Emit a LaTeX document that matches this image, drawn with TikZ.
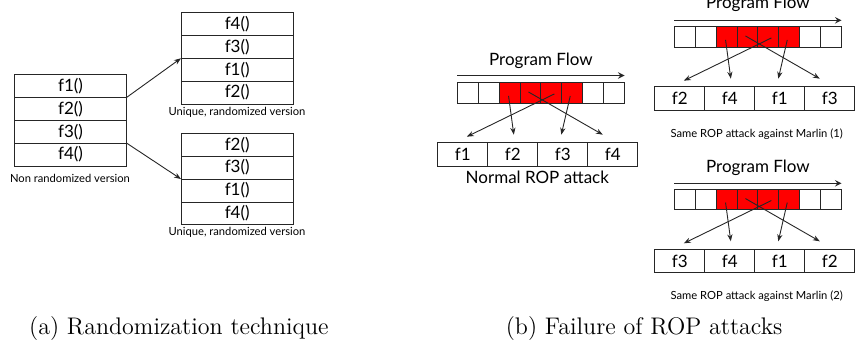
\documentclass[tikz,border=0pt]{standalone}
\usepackage{fontspec}
\newfontfamily\gillfont{Lato}
\usetikzlibrary{arrows.meta,positioning}

\tikzset{
  fnbox/.style={draw, minimum width=56.2pt, minimum height=11.45pt, inner sep=0pt, outer sep=0pt,
    font=\gillfont\fontsize{8.5}{8}\selectfont},
  cell/.style={draw, minimum width=10.45pt, minimum height=10.25pt, inner sep=0pt, outer sep=0pt},
  hot/.style={cell, fill=red},
  gadget/.style={draw, minimum width=25pt, minimum height=11.75pt, inner sep=0pt, outer sep=0pt,
    font=\gillfont\fontsize{8.5}{8}\selectfont},
  note/.style={font=\gillfont\fontsize{5.6}{6}\selectfont},
  flow/.style={font=\gillfont\fontsize{8.5}{9}\selectfont, anchor=base},
  tip/.style={-{Stealth[length=3.5pt,width=2.6pt]}},
}

\begin{document}
\begin{tikzpicture}[x=0.5pt, y=-0.5pt, line width=0.45pt, draw=black!85]
\useasboundingbox (0,0) rectangle (865,349);

% (a) original order and two shuffled copies
\node[fnbox] (a1) at (70.5,85.9) {f1()};
\node[fnbox, below=0pt of a1] (a2) {f2()};
\node[fnbox, below=0pt of a2] (a3) {f3()};
\node[fnbox, below=0pt of a3] (a4) {f4()};
\node[note] (alab) at (70,178) {Non randomized version};

\node[fnbox] (b1) at (237.2,23.9) {f4()};
\node[fnbox, below=0pt of b1] (b2) {f3()};
\node[fnbox, below=0pt of b2] (b3) {f1()};
\node[fnbox, below=0pt of b3] (b4) {f2()};
\node[note] (blab) at (237,112) {Unique, randomized version};

\node[fnbox] (c1) at (237.2,144.7) {f2()};
\node[fnbox, below=0pt of c1] (c2) {f3()};
\node[fnbox, below=0pt of c2] (c3) {f1()};
\node[fnbox, below=0pt of c3] (c4) {f4()};
\node[note] (clab) at (237,232) {Unique, randomized version};

\draw[tip] (a1.south east) -- (b2.south west);
\draw[tip] (a3.south east) -- (c2.south west);

% (b) normal ROP chain
\begin{scope}[shift={(457.3,82.7)}]
\foreach \i in {1,2,7,8} \node[cell] (u\i) at ({(\i-0.5)*20.9},10.25) {};
\foreach \i in {3,...,6} \node[hot] (u\i) at ({(\i-0.5)*20.9},10.25) {};
\foreach \lbl [count=\j] in {f1,f2,f3,f4}
  \node[gadget] (ub\j) at ({-19.5+(\j-0.5)*50},71.75) {\lbl};
\node[flow] (uflow) at (83.6,-17) {Program Flow};
\draw[-stealth] ([yshift=3.6pt]u1.north west) -- ([yshift=3.6pt]u8.north east);
\node[font=\gillfont\fontsize{8.5}{9}\selectfont] (ulab) at (80,94.3) {Normal ROP attack};
\draw[tip] ([shift={(-1,3)}]u3.center) -- ([shift={(1,-8)}]ub2.north);
\draw[tip] ([shift={(-2,3)}]u6.center) -- ([shift={(-1.5,-8)}]ub3.north);
\draw[tip] ([shift={(-2,-1)}]u4.center) -- ([shift={(-10,-8)}]ub4.north);
\draw[tip] ([shift={(3,1)}]u5.center) -- ([shift={(4,-6)}]ub1.north);
\end{scope}

% (b) same chain against Marlin, first layout
\begin{scope}[shift={(674.3,26.7)}]
\foreach \i in {1,2,7,8} \node[cell] (v\i) at ({(\i-0.5)*20.9},10.25) {};
\foreach \i in {3,...,6} \node[hot] (v\i) at ({(\i-0.5)*20.9},10.25) {};
\foreach \lbl [count=\j] in {f2,f4,f1,f3}
  \node[gadget] (vb\j) at ({-19.5+(\j-0.5)*50},71.75) {\lbl};
\node[flow] (vflow) at (83.6,-18) {Program Flow};
\draw[-stealth] ([yshift=3.2pt]v1.north west) -- ([yshift=3.2pt]v8.north east);
\node[note] (vlab) at (82.4,107) {Same ROP attack against Marlin (1)};
\draw[tip] ([shift={(-1,3)}]v3.center) -- ([shift={(1,-8)}]vb2.north);
\draw[tip] ([shift={(-2,3)}]v6.center) -- ([shift={(-1.5,-8)}]vb3.north);
\draw[tip] ([shift={(-2,-1)}]v4.center) -- ([shift={(-10,-8)}]vb4.north);
\draw[tip] ([shift={(3,1)}]v5.center) -- ([shift={(4,-6)}]vb1.north);
\end{scope}

% (b) same chain against Marlin, second layout
\begin{scope}[shift={(674.3,189.3)}]
\foreach \i in {1,2,7,8} \node[cell] (w\i) at ({(\i-0.5)*20.9},10.25) {};
\foreach \i in {3,...,6} \node[hot] (w\i) at ({(\i-0.5)*20.9},10.25) {};
\foreach \lbl [count=\j] in {f3,f4,f1,f2}
  \node[gadget] (wb\j) at ({-19.5+(\j-0.5)*50},71.75) {\lbl};
\node[flow] (wflow) at (83.6,-17) {Program Flow};
\draw[-stealth] ([yshift=3pt]w1.north west) -- ([yshift=3pt]w8.north east);
\node[note] (wlab) at (82.4,107) {Same ROP attack against Marlin (2)};
\draw[tip] ([shift={(-1,3)}]w3.center) -- ([shift={(1,-8)}]wb2.north);
\draw[tip] ([shift={(-2,3)}]w6.center) -- ([shift={(-1.5,-8)}]wb3.north);
\draw[tip] ([shift={(-2,-1)}]w4.center) -- ([shift={(-10,-8)}]wb4.north);
\draw[tip] ([shift={(3,1)}]w5.center) -- ([shift={(4,-6)}]wb1.north);
\end{scope}

% sub-captions
\node[anchor=west, font=\fontsize{12}{14}\selectfont] (capa) at (22,329) {(a) Randomization technique};
\node[anchor=west, font=\fontsize{12}{14}\selectfont] (capb) at (498.7,329) {(b) Failure of ROP attacks};

\end{tikzpicture}
\end{document}
